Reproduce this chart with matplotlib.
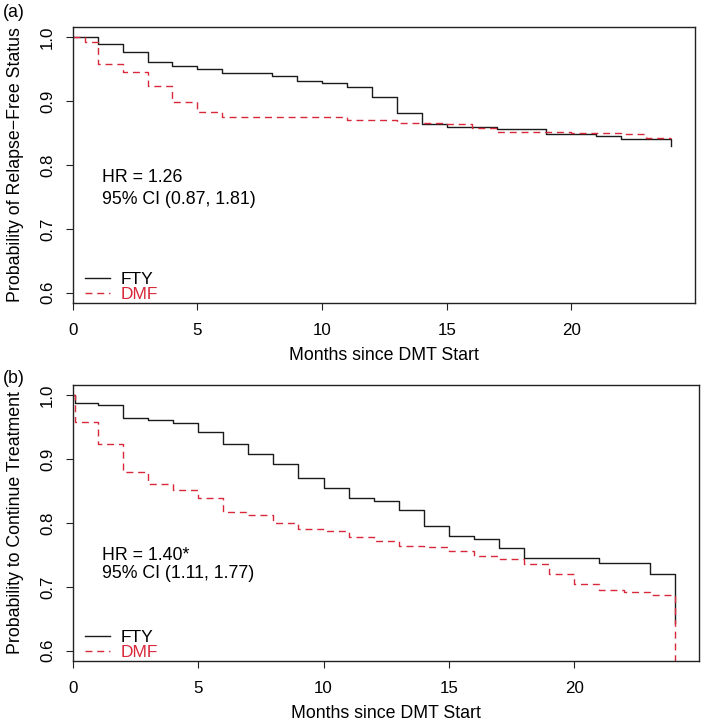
import numpy as np
import matplotlib
matplotlib.use("Agg")
from matplotlib import pyplot as plt

# panel (a): relapse-free status
months_a_fty = [0, 1, 2, 3, 4, 5, 6, 8, 9, 10, 11, 12, 13, 14, 15, 17, 19, 21, 22, 24]
surv_a_fty = [1.0, 0.9895, 0.977, 0.962, 0.9545, 0.951, 0.9435, 0.939, 0.932, 0.928,
              0.9215, 0.906, 0.882, 0.8645, 0.860, 0.857, 0.849, 0.845, 0.841, 0.83]
months_a_dmf = [0, 0.5, 1, 2, 3, 4, 5, 6, 11, 13, 15, 16, 17, 20, 22, 23, 24]
surv_a_dmf = [1.0, 0.993, 0.958, 0.945, 0.924, 0.899, 0.883, 0.8755, 0.871, 0.8656,
              0.8635, 0.858, 0.852, 0.850, 0.8483, 0.8425, 0.8425]

# panel (b): continue treatment
months_b_fty = [0, 0.1, 1, 2, 3, 4, 5, 6, 7, 8, 9, 10, 11, 12, 13, 14, 15, 16, 17, 18, 21, 23, 24]
surv_b_fty = [1.0, 0.9875, 0.984, 0.9646, 0.962, 0.957, 0.942, 0.924, 0.908, 0.8925, 0.870,
              0.855, 0.8395, 0.835, 0.821, 0.795, 0.780, 0.7757, 0.7606, 0.7455, 0.7377,
              0.7196, 0.644]
months_b_dmf = [0, 0.1, 1, 2, 3, 4, 5, 6, 7, 8, 9, 10, 11, 12, 13, 14, 15, 16, 17, 18, 19,
                20, 21, 22, 23, 24]
surv_b_dmf = [1.0, 0.9584, 0.9237, 0.8795, 0.8613, 0.851, 0.8396, 0.817, 0.812, 0.8006,
              0.790, 0.7875, 0.778, 0.772, 0.764, 0.762, 0.7564, 0.7486, 0.7435, 0.7357,
              0.7196, 0.704, 0.695, 0.6925, 0.6874, 0.55]

group_labels = ["FTY", "DMF"]
panel_tags = ["(a)", "(b)"]
y_labels = ["Probability of Relapse\u2212Free Status", "Probability to Continue Treatment"]
hr_text = [["HR = 1.26", "95% CI (0.87, 1.81)"], ["HR = 1.40*", "95% CI (1.11, 1.77)"]]
x_ticks = [0, 5, 10, 15, 20]
y_ticks = [0.6, 0.7, 0.8, 0.9, 1.0]

red = "#d8283a"
plt.rcParams["font.family"] = ["Liberation Sans", "DejaVu Sans"]
plt.rcParams["font.size"] = 12.8

fig = plt.figure(figsize=(7.02, 7.24), dpi=100)
axes_pos = [[0.1036, 0.5815, 0.8865, 0.3812], [0.1036, 0.0870, 0.8917, 0.3812]]
hr_y = [[0.773, 0.7396], [0.742, 0.7134]]
tag_y = [1 - 4 / 724, 1 - 370 / 724]

curves = [
    [(months_a_fty, surv_a_fty), (months_a_dmf, surv_a_dmf)],
    [(months_b_fty, surv_b_fty), (months_b_dmf, surv_b_dmf)],
]

for k in range(2):
    ax = fig.add_axes(axes_pos[k])
    (t1, s1), (t2, s2) = curves[k]
    h1, = ax.step(t1, s1, where="post", color="#1a1a1a", linewidth=1.0, label=group_labels[0])
    h2, = ax.step(t2, s2, where="post", color=red, linewidth=1.0, dashes=(5, 3.5), label=group_labels[1])
    ax.set_xlim(0, 24.96)
    ax.set_ylim(0.584, 1.016)
    ax.set_xticks(x_ticks)
    ax.set_yticks(y_ticks)
    ax.set_xticklabels([str(v) for v in x_ticks], fontsize=12.2)
    ax.set_yticklabels([f"{v:.1f}" for v in y_ticks], fontsize=12.2, rotation=90, va="center")
    ax.tick_params(direction="out", length=5.2, width=0.8, color="#222222")
    ax.tick_params(axis="x", pad=9.5)
    ax.tick_params(axis="y", pad=7.5)
    for sp in ax.spines.values():
        sp.set_linewidth(1.0)
        sp.set_color("#222222")
    ax.set_xlabel("Months since DMT Start")
    ax.xaxis.set_label_coords(0.5, -0.16)
    ax.xaxis.label.set_va("top")
    ax.set_ylabel(y_labels[k])
    ax.yaxis.set_label_coords(-0.078, 0.5)
    ax.text(1.17, hr_y[k][0], hr_text[k][0], va="baseline", ha="left")
    ax.text(1.17, hr_y[k][1], hr_text[k][1], va="baseline", ha="left")
    ax.legend([h1, h2], group_labels, loc="lower left", bbox_to_anchor=(0.0166, -0.004),
              frameon=False, handlelength=1.45, handletextpad=0.6, labelspacing=0.0,
              borderpad=0.1, borderaxespad=0.0, labelcolor=["black", red], fontsize=12.5)
    fig.text(0.004, tag_y[k], panel_tags[k], va="top", ha="left")

fig.savefig("out.png", dpi=100)
